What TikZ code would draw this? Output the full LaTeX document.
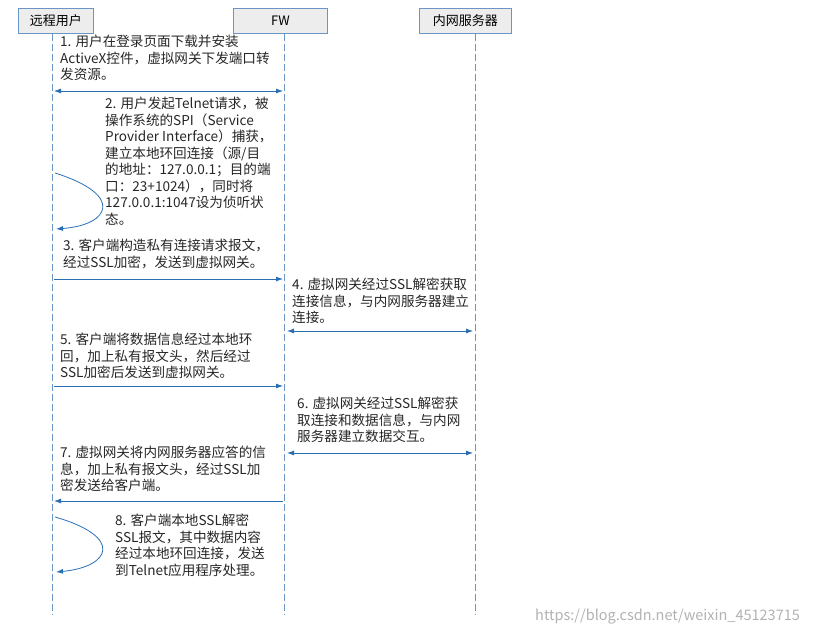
\documentclass[tikz,border=0pt]{standalone}
\usepackage{fontspec}
\setmainfont{Noto Sans CJK SC}
\usetikzlibrary{arrows.meta}
\definecolor{ln}{HTML}{2A6EB3}
\definecolor{bx}{HTML}{6A95C4}
\tikzset{
  actor/.style={draw=bx,fill=black!7,line width=0.8pt,minimum height=25pt,anchor=north west,inner sep=0pt,font=\fontsize{13}{15}\selectfont},
  life/.style={draw=bx,dash pattern=on 7pt off 3pt,line width=0.8pt},
  msg/.style={draw=ln,line width=0.8pt,-{Latex[length=7pt,width=5pt]}},
  dmsg/.style={draw=ln,line width=0.8pt,{Latex[length=7pt,width=5pt]}-{Latex[length=7pt,width=5pt]}},
  lbl/.style={anchor=north west,inner sep=0pt,align=left,font=\fontsize{13.6}{16.5}\selectfont,text=black!85}
}
\begin{document}
\begin{tikzpicture}[x=1pt,y=-1pt]
\useasboundingbox (0,0) rectangle (813,636);
\node[actor,minimum width=75pt] (u) at (18,8) {远程用户};
\node[actor,minimum width=94pt] (f) at (233,8) {FW};
\node[actor,minimum width=92pt] (s) at (419,8) {内网服务器};
\coordinate (ue) at (52,615); \coordinate (fe) at (284,615); \coordinate (se) at (475,615);
\draw[life] (u.south -| 52,0) -- (ue);
\draw[life] (f.south -| 284,0) -- (fe);
\draw[life] (s.south -| 475,0) -- (se);
% 1
\node[lbl] (t1) at (60,35) {1. 用户在登录页面下载并安装\\ActiveX控件，虚拟网关下发端口转\\发资源。};
\coordinate (a1) at (54,91); \coordinate (b1) at (283,91);
\draw[dmsg] (a1) -- (b1);
% 2
\node[lbl] (t2) at (105,97) {2. 用户发起Telnet请求，被\\操作系统的SPI（Service\\Provider Interface）捕获，\\建立本地环回连接（源/目\\的地址：127.0.0.1；目的端\\口：23+1024），同时将\\127.0.0.1:1047设为侦听状\\态。};
\coordinate (a2) at (55,173); \coordinate (b2) at (56,229);
\draw[msg] (a2) .. controls (125,195) and (110,225) .. (b2);
% 3
\node[lbl] (t3) at (63,239) {3. 客户端构造私有连接请求报文，\\经过SSL加密，发送到虚拟网关。};
\coordinate (a3) at (54,279); \coordinate (b3) at (283,279);
\draw[msg] (a3) -- (b3);
% 4
\node[lbl] (t4) at (292,278) {4. 虚拟网关经过SSL解密获取\\连接信息，与内网服务器建立\\连接。};
\coordinate (a4) at (287,331); \coordinate (b4) at (473,331);
\draw[dmsg] (a4) -- (b4);
% 5
\node[lbl] (t5) at (60,333) {5. 客户端将数据信息经过本地环\\回，加上私有报文头，然后经过\\SSL加密后发送到虚拟网关。};
\coordinate (a5) at (54,386); \coordinate (b5) at (283,386);
\draw[msg] (a5) -- (b5);
% 6
\node[lbl] (t6) at (297,397) {6. 虚拟网关经过SSL解密获\\取连接和数据信息，与内网\\服务器建立数据交互。};
\coordinate (a6) at (287,453); \coordinate (b6) at (473,453);
\draw[dmsg] (a6) -- (b6);
% 7
\node[lbl] (t7) at (60,446) {7. 虚拟网关将内网服务器应答的信\\息，加上私有报文头，经过SSL加\\密发送给客户端。};
\coordinate (a7) at (283,501); \coordinate (b7) at (54,501);
\draw[msg] (a7) -- (b7);
% 8
\node[lbl] (t8) at (115,514) {8. 客户端本地SSL解密\\SSL报文，其中数据内容\\经过本地环回连接，发送\\到Telnet应用程序处理。};
\coordinate (a8) at (55,517); \coordinate (b8) at (56,572);
\draw[msg] (a8) .. controls (125,537) and (110,567) .. (b8);
\node[anchor=west,inner sep=0pt,font=\fontsize{14.5}{16}\selectfont,text=black!30] (wm) at (535,617) {https://blog.csdn.net/weixin\_45123715};
\end{tikzpicture}
\end{document}
